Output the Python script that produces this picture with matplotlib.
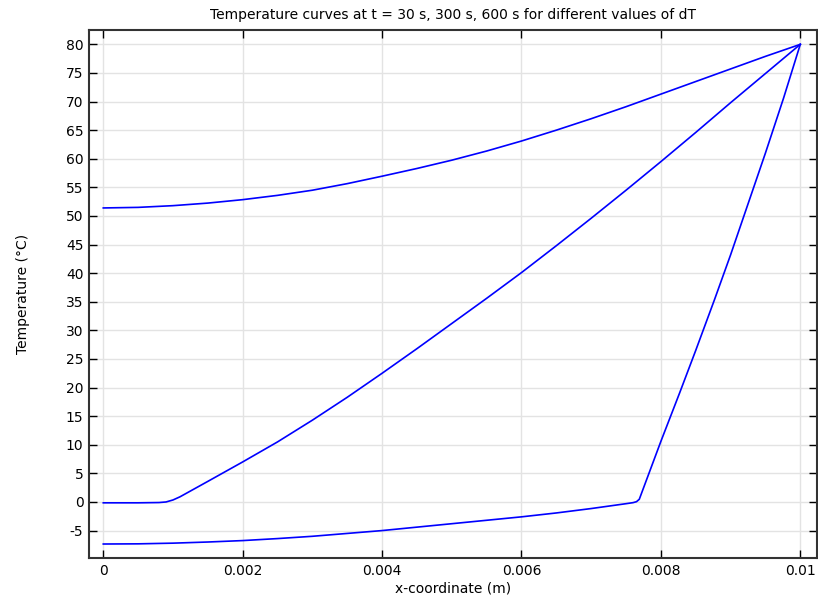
import numpy as np
import matplotlib
matplotlib.use('Agg')
import matplotlib.pyplot as plt

plt.rcParams['axes.unicode_minus'] = False

# temperature profiles (x in m, T in degC)
x_t30 = [0, 0.0005, 0.001, 0.0015, 0.002, 0.0025, 0.003, 0.0035, 0.004,
         0.0045, 0.005, 0.0055, 0.006, 0.0065, 0.007, 0.0075, 0.0076,
         0.00765, 0.00769, 0.008, 0.00827, 0.0085, 0.00877, 0.009, 0.0095,
         0.00976, 0.01]
T_t30 = [-7.35, -7.32, -7.2, -7.0, -6.75, -6.4, -6.0, -5.5, -5.0,
         -4.4, -3.8, -3.2, -2.6, -1.92, -1.15, -0.3, -0.12,
         0.05, 0.47, 10.6, 19.1, 26.5, 35.4, 43.2, 61.0,
         70.6, 80.0]

x_t300 = [0, 0.0005, 0.0008, 0.0009, 0.001, 0.0011, 0.0015, 0.002, 0.0025,
          0.003, 0.0035, 0.004, 0.0045, 0.005, 0.0055, 0.006, 0.0065,
          0.007, 0.0075, 0.008, 0.0085, 0.009, 0.0095, 0.01]
T_t300 = [-0.15, -0.15, -0.1, 0.0, 0.35, 0.9, 3.6, 7.0, 10.5,
          14.3, 18.3, 22.5, 26.8, 31.2, 35.6, 40.1, 44.8,
          49.6, 54.5, 59.5, 64.6, 69.8, 74.9, 80.0]

x_t600 = [0, 0.0005, 0.001, 0.0015, 0.002, 0.0025, 0.003, 0.0035, 0.004,
          0.0045, 0.005, 0.0055, 0.006, 0.0065, 0.007, 0.0075, 0.008,
          0.0085, 0.009, 0.0095, 0.01]
T_t600 = [51.4, 51.5, 51.8, 52.25, 52.85, 53.6, 54.5, 55.65, 56.95,
          58.3, 59.75, 61.35, 63.1, 65.0, 67.0, 69.1, 71.3,
          73.5, 75.7, 77.9, 80.0]

x_ticks = [0, 0.002, 0.004, 0.006, 0.008, 0.01]
x_labels = ['0', '0.002', '0.004', '0.006', '0.008', '0.01']
y_ticks = list(range(-5, 81, 5))

fig = plt.figure(figsize=(8.18, 6.01), dpi=100)
ax = fig.add_axes([0.1088, 0.0715, 0.89, 0.8785])

for xs, ts in [(x_t600, T_t600), (x_t300, T_t300), (x_t30, T_t30)]:
    ax.plot(xs, ts, color='#0000ff', linewidth=1.2)

ax.set_xlim(-0.000205, 0.01024)
ax.set_ylim(-9.8, 82.5)
ax.set_xticks(x_ticks)
ax.set_xticklabels(x_labels)
ax.set_yticks(y_ticks)

ax.grid(True, color='#e3e3e3', linewidth=1.0)
ax.set_axisbelow(True)
ax.tick_params(direction='in', length=6, width=1.0, top=True, right=True,
               labelsize=10, colors='#000000', pad=4)
for s in ax.spines.values():
    s.set_linewidth(1.5)
    s.set_color('#333333')

ax.set_title('Temperature curves at t = 30 s, 300 s, 600 s for different values of dT',
             fontsize=10, pad=8)
ax.set_xlabel('x-coordinate (m)', fontsize=10, labelpad=2.5)
ax.set_ylabel('Temperature (\u00b0C)', fontsize=10, labelpad=26)

fig.savefig('out.png', dpi=100)
